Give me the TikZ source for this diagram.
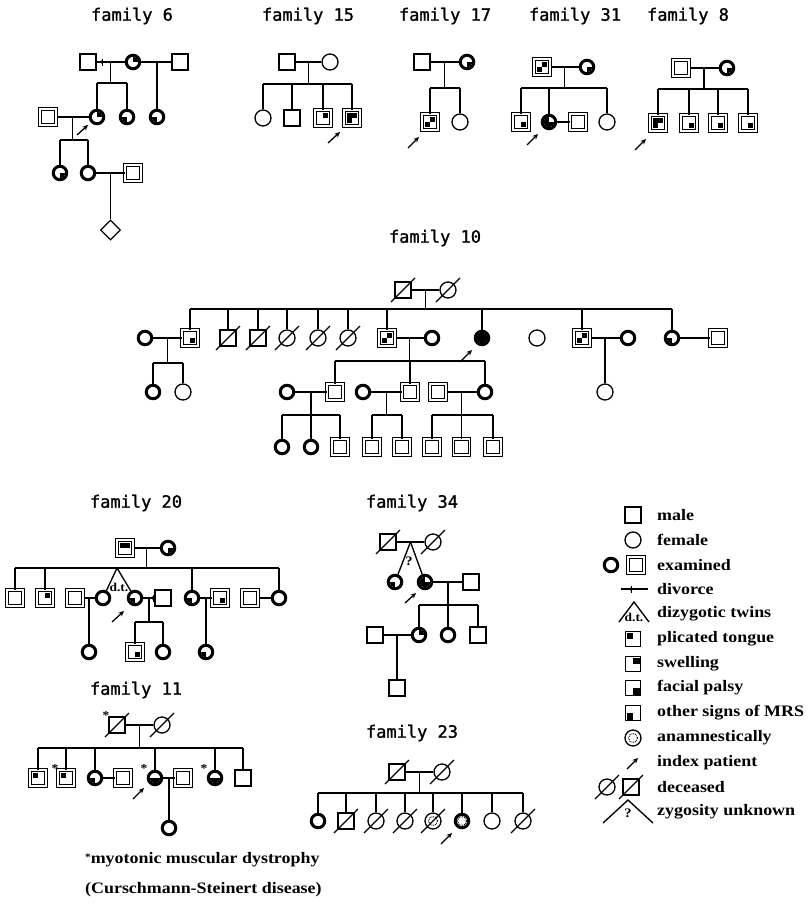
\documentclass[tikz,border=0pt]{standalone}
\usepackage{fontspec}
\usetikzlibrary{calc,shapes.geometric,arrows.meta}
\newfontfamily\ttlfont[FakeBold=1.2]{DejaVu Sans Mono}
\newfontfamily\legfont[FakeStretch=1.12]{Liberation Serif}
\tikzset{
 ind/.style={draw, line width=1.3pt, inner sep=0pt, fill=white},
 msq/.style={ind, rectangle, minimum size=16pt},
 fci/.style={ind, circle, minimum size=16pt},
 exm/.style={ind, rectangle, minimum size=16pt, double=white, double distance=1.5pt, line width=1pt},
 exf/.style={ind, circle, minimum size=13.5pt, line width=3pt},
 dia/.style={ind, diamond, minimum size=20pt},
 lsq/.style={ind, rectangle, minimum size=15pt},
 rel/.style={line width=1.35pt},
 idxa/.style={line width=1.3pt, -{Stealth[length=5.5pt,width=5pt]}},
 ttl/.style={font=\ttlfont\fontsize{17}{19}\selectfont},
 legtxt/.style={font=\legfont\bfseries\fontsize{16}{18}\selectfont, anchor=west, inner sep=0pt},
 small/.style={font=\legfont\bfseries\fontsize{12}{12}\selectfont, inner sep=0pt},
}
\newcommand\Qs[4][5]{\fill (#2.center) rectangle ++({#3*#1},{#4*#1});}
\newcommand\Qc[3]{\begin{scope}\clip (#1.center) circle[radius=5.4pt];\fill (#1.center) rectangle ++({#2*7},{#3*7});\end{scope}}
\newcommand\dead[1]{\draw[rel] ($(#1.center)+(-12,12)$) -- ($(#1.center)+(12,-12)$);}
\newcommand\amn[1]{\draw[densely dotted, line width=0.9pt] (#1.center) circle[radius=4.5pt];}
\newcommand\astr[1]{\node[font=\legfont\bfseries\fontsize{12}{12}\selectfont, inner sep=0pt] (#1st) at ($(#1.center)+(-11,-9)$) {*};}
\newcommand\mate[3]{\draw[rel] (#1) -- (#2); \coordinate (#3) at ($(#1)!.5!(#2)$);}
\newcommand\sib[4]{\draw[rel] (#1) -- (#1 |- 0,#2); \draw[rel] (#3 |- 0,#2) -- (#4 |- 0,#2);}
\newcommand\drop[2]{\foreach \pp in {#2} {\draw[rel] (\pp.north) -- (\pp |- 0,#1);}}
\newcommand\one[2]{\draw[rel] (#2.north) -- (#2 |- #1);}
\newcommand\divm[1]{\fill (#1) circle[radius=1.8pt]; \draw[line width=1pt] ($(#1)+(0,-3.5)$) -- ($(#1)+(0,3.5)$);}
\begin{document}
\begin{tikzpicture}[x=1pt,y=-1pt]
\useasboundingbox (0,0) rectangle (809,910);
\fill[white] (0,0) rectangle (809,910);

% ---------- titles
\node[ttl] (t6) at (132,16) {family 6};
\node[ttl] (t15) at (308,16) {family 15};
\node[ttl] (t17) at (445,16) {family 17};
\node[ttl] (t31) at (575,16) {family 31};
\node[ttl] (t8) at (688,16) {family 8};
\node[ttl] (t10) at (435,238) {family 10};
\node[ttl] (t20) at (136,503) {family 20};
\node[ttl] (t34) at (412,503) {family 34};
\node[ttl] (t11) at (136,690) {family 11};
\node[ttl] (t23) at (412,733) {family 23};

% ---------- family 6
\node[msq] (a6) at (88,62) {};
\node[exf] (b6) at (133,62) {}; \Qc{b6}{1}{-1}
\node[msq] (c6) at (180,62) {};
\node[exm] (d6) at (48,117) {};
\node[exf] (e6) at (97,117) {}; \Qc{e6}{1}{-1}
\node[exf] (f6) at (127,117) {}; \Qc{f6}{-1}{1}
\node[exf] (g6) at (157,117) {}; \Qc{g6}{-1}{1}
\node[exf] (h6) at (60,173) {}; \Qc{h6}{1}{1}
\node[exf] (i6) at (88,173) {};
\node[exm] (j6) at (133,173) {};
\node[dia] (k6) at (110.5,230) {};
\mate{a6}{b6}{m6a} \coordinate (dv6) at (102,62); \divm{dv6}
\mate{b6}{c6}{m6b}
\sib{m6a}{83}{e6}{f6} \drop{83}{e6,f6}
\one{m6b}{g6}
\mate{d6}{e6}{m6c}
\sib{m6c}{140}{h6}{i6} \drop{140}{h6,i6}
\mate{i6}{j6}{m6d}
\one{m6d}{k6}
\draw[idxa] ($(e6.center)+(-20,18)$) -- ($(e6.center)+(-9,8)$);

% ---------- family 15
\node[msq] (a15) at (287,62) {};
\node[fci] (b15) at (330,62) {};
\node[fci] (c15) at (263,118) {};
\node[msq] (d15) at (292,118) {};
\node[exm] (e15) at (323,118) {}; \Qs{e15}{1}{-1}
\node[exm] (f15) at (352,118) {}; \Qs{f15}{-1}{-1}\Qs{f15}{1}{-1}\Qs{f15}{-1}{1}
\mate{a15}{b15}{m15}
\sib{m15}{84}{c15}{f15} \drop{84}{c15,d15,e15,f15}
\draw[idxa] ($(f15.center)+(-24,25)$) -- ($(f15.center)+(-12,14)$);

% ---------- family 17
\node[msq] (a17) at (422,62) {};
\node[exf] (b17) at (467,62) {}; \Qc{b17}{1}{1}
\node[exm] (c17) at (430,122) {}; \Qs{c17}{1}{-1}\Qs{c17}{-1}{1}
\node[fci] (d17) at (460,122) {};
\mate{a17}{b17}{m17}
\sib{m17}{88}{c17}{d17} \drop{88}{c17,d17}
\draw[idxa] ($(c17.center)+(-22,26)$) -- ($(c17.center)+(-11,15)$);

% ---------- family 31
\node[exm] (a31) at (542,67) {}; \Qs{a31}{1}{-1}\Qs{a31}{-1}{1}
\node[exf] (b31) at (587,67) {}; \Qc{b31}{1}{1}
\node[exm] (c31) at (521,122) {}; \Qs{c31}{1}{1}
\node[exf] (d31) at (549,122) {}; \Qc{d31}{-1}{-1}\Qc{d31}{-1}{1}\Qc{d31}{1}{1}
\node[exm] (e31) at (578,122) {};
\node[fci] (f31) at (607,122) {};
\mate{a31}{b31}{m31}
\sib{m31}{88}{c31}{f31} \drop{88}{c31,d31,f31}
\mate{d31}{e31}{m31b}
\draw[idxa] ($(d31.center)+(-22,23)$) -- ($(d31.center)+(-11,12)$);

% ---------- family 8
\node[exm] (a8) at (681,68) {};
\node[exf] (b8) at (727,68) {}; \Qc{b8}{1}{1}
\node[exm] (c8) at (658,123) {}; \Qs{c8}{-1}{-1}\Qs{c8}{1}{-1}\Qs{c8}{-1}{1}
\node[exm] (d8) at (689,123) {}; \Qs{d8}{1}{1}
\node[exm] (e8) at (718,123) {}; \Qs{e8}{1}{1}
\node[exm] (f8) at (748,123) {}; \Qs{f8}{1}{1}
\mate{a8}{b8}{m8}
\sib{m8}{89}{c8}{f8} \drop{89}{c8,d8,e8,f8}
\draw[idxa] ($(c8.center)+(-23,27)$) -- ($(c8.center)+(-12,16)$);

% ---------- family 10
\node[msq] (a10) at (403,290) {}; \dead{a10}
\node[fci] (b10) at (448,290) {}; \dead{b10}
\node[exf] (c10) at (145,338) {};
\node[exm] (d10) at (190,338) {}; \Qs{d10}{1}{1}
\node[msq] (e10) at (228,338) {}; \dead{e10}
\node[msq] (f10) at (258,338) {}; \dead{f10}
\node[fci] (g10) at (287,338) {}; \dead{g10}
\node[fci] (h10) at (318,338) {}; \dead{h10}
\node[fci] (i10) at (348,338) {}; \dead{i10}
\node[exm] (j10) at (387,338) {}; \Qs{j10}{1}{-1}\Qs{j10}{-1}{1}
\node[exf] (k10) at (432,338) {};
\node[exf] (l10) at (482,338) {}; \fill (l10.center) circle[radius=5.5pt];
\node[fci] (m10) at (537,338) {};
\node[exm] (n10) at (582,338) {}; \Qs{n10}{1}{-1}\Qs{n10}{-1}{1}
\node[exf] (o10) at (628,338) {};
\node[exf] (p10) at (672,338) {}; \Qc{p10}{-1}{1}
\node[exm] (q10) at (718,338) {};
\mate{a10}{b10}{m10}
\sib{m10}{309}{d10}{p10} \drop{309}{d10,e10,f10,g10,h10,i10,j10,l10,m10,n10,p10}
\mate{c10}{d10}{m10a}
\mate{j10}{k10}{m10b}
\mate{n10}{o10}{m10f}
\mate{p10}{q10}{m10g}
% gen III
\node[exf] (r10) at (153,392) {};
\node[fci] (s10) at (183,392) {};
\sib{m10a}{363}{r10}{s10} \drop{363}{r10,s10}
\node[exf] (x10a) at (287,392) {};
\node[exm] (t10) at (335,392) {};
\node[exf] (x10b) at (363,392) {};
\node[exm] (u10) at (410,392) {};
\node[exm] (x10c) at (438,392) {};
\node[exf] (w10) at (485,392) {};
\sib{m10b}{361}{t10}{w10} \drop{361}{t10,u10,w10}
\node[fci] (v10) at (605,392) {};
\one{m10f}{v10}
\mate{x10a}{t10}{m10c}
\mate{x10b}{u10}{m10d}
\mate{x10c}{w10}{m10e}
% gen IV
\node[exf] (g4a) at (282,447) {};
\node[exf] (g4b) at (311,447) {};
\node[exm] (g4c) at (340,447) {};
\node[exm] (g4d) at (372,447) {};
\node[exm] (g4e) at (402,447) {};
\node[exm] (g4f) at (432,447) {};
\node[exm] (g4g) at (461.5,447) {};
\node[exm] (g4h) at (493,447) {};
\sib{m10c}{415}{g4a}{g4c} \drop{415}{g4a,g4b,g4c}
\sib{m10d}{415}{g4d}{g4e} \drop{415}{g4d,g4e}
\sib{m10e}{415}{g4f}{g4h} \drop{415}{g4f,g4g,g4h}
\draw[idxa] ($(l10.center)+(-22,24)$) -- ($(l10.center)+(-10,12)$);

% ---------- family 20
\node[exm] (a20) at (125,548) {}; \Qs{a20}{-1}{-1}\Qs{a20}{1}{-1}
\node[exf] (b20) at (168,548) {}; \Qc{b20}{1}{1}
\node[exm] (c20) at (15,598) {};
\node[exm] (d20) at (45,598) {}; \Qs{d20}{1}{-1}
\node[exm] (e20) at (75,598) {};
\node[exf] (f20) at (103,598) {};
\node[exf] (g20) at (135,598) {}; \Qc{g20}{-1}{1}
\node[msq] (h20) at (163,598) {};
\node[exf] (i20) at (192,598) {}; \Qc{i20}{-1}{1}
\node[exm] (j20) at (220,598) {}; \Qs{j20}{1}{1}
\node[exm] (k20) at (250,598) {};
\node[exf] (l20) at (279,598) {};
\mate{a20}{b20}{m20}
\sib{m20}{568}{c20}{l20} \drop{568}{c20,d20,i20,l20}
\coordinate (tw20) at (117,568);
\draw[rel] (tw20) -- (f20); \draw[rel] (tw20) -- (g20);
\node[small] (dt20) at (119,587) {d.t.};
\mate{e20}{f20}{m20a}
\mate{g20}{h20}{m20b} \coordinate (dv20) at (153,598); \divm{dv20}
\mate{i20}{j20}{m20c}
\mate{k20}{l20}{m20d}
\node[exf] (p20a) at (89,652) {};
\one{m20a}{p20a}
\node[exm] (n20) at (135,652) {}; \Qs{n20}{1}{1}
\node[exf] (o20) at (163,652) {};
\sib{m20b}{622}{n20}{o20} \drop{622}{n20,o20}
\node[exf] (p20) at (206,652) {}; \Qc{p20}{-1}{1}
\one{m20c}{p20}
\draw[idxa] ($(g20.center)+(-23,24)$) -- ($(g20.center)+(-11,13)$);

% ---------- family 34
\node[msq] (a34) at (388,542) {}; \dead{a34}
\node[fci] (b34) at (433,542) {}; \dead{b34}
\node[exf] (c34) at (395,582) {}; \Qc{c34}{-1}{1}
\node[exf] (d34) at (425,582) {}; \Qc{d34}{-1}{-1}\Qc{d34}{-1}{1}\Qc{d34}{1}{1}
\node[msq] (e34) at (471,582) {};
\mate{a34}{b34}{m34}
\draw[rel] (m34) -- (c34); \draw[rel] (m34) -- (d34);
\node[font=\legfont\bfseries\fontsize{13}{13}\selectfont, inner sep=0pt] (q34) at (409,561) {?};
\mate{d34}{e34}{m34a}
\node[exf] (f34) at (419,635) {}; \Qc{f34}{1}{-1}
\node[exf] (g34) at (448,635) {};
\node[msq] (h34) at (478,635) {};
\sib{m34a}{605}{f34}{h34} \drop{605}{f34,g34,h34}
\node[msq] (i34) at (375,635) {};
\mate{i34}{f34}{m34b}
\node[msq] (j34) at (397,688) {};
\one{m34b}{j34}
\draw[idxa] ($(d34.center)+(-20,21)$) -- ($(d34.center)+(-9,11)$);

% ---------- family 11
\node[msq] (a11) at (117,725) {}; \dead{a11} \astr{a11}
\node[fci] (b11) at (162,725) {}; \dead{b11}
\node[exm] (c11) at (38,778) {}; \Qs{c11}{-1}{-1}
\node[exm] (d11) at (66,778) {}; \Qs{d11}{-1}{-1} \astr{d11}
\node[exf] (e11) at (95,778) {}; \Qc{e11}{-1}{1}
\node[exm] (f11) at (123,778) {};
\node[exf] (g11) at (155,778) {}; \Qc{g11}{-1}{1}\Qc{g11}{1}{1} \astr{g11}
\node[exm] (h11) at (183,778) {};
\node[exf] (i11) at (215,778) {}; \Qc{i11}{-1}{1}\Qc{i11}{1}{1} \astr{i11}
\node[msq] (j11) at (243,778) {};
\mate{a11}{b11}{m11}
\sib{m11}{748}{c11}{j11} \drop{748}{c11,d11,e11,g11,i11,j11}
\mate{e11}{f11}{m11a}
\mate{g11}{h11}{m11b}
\node[exf] (k11) at (169,828) {};
\one{m11b}{k11}
\draw[idxa] ($(g11.center)+(-22,21)$) -- ($(g11.center)+(-11,10)$);

% ---------- family 23
\node[msq] (a23) at (397,772) {}; \dead{a23}
\node[fci] (b23) at (442,772) {}; \dead{b23}
\node[exf] (c23) at (318,821) {};
\node[msq] (d23) at (346,821) {}; \dead{d23}
\node[fci] (e23) at (376,821) {}; \dead{e23}
\node[fci] (f23) at (405,821) {}; \dead{f23}
\node[fci] (g23) at (433,821) {}; \amn{g23} \dead{g23}
\node[exf] (h23) at (462,821) {}; \amn{h23}
\node[fci] (i23) at (492,821) {};
\node[fci] (j23) at (523,821) {}; \dead{j23}
\mate{a23}{b23}{m23}
\sib{m23}{793}{c23}{j23} \drop{793}{c23,d23,e23,f23,g23,h23,i23,j23}
\draw[idxa] ($(h23.center)+(-21,23)$) -- ($(h23.center)+(-10,12)$);

% ---------- legend
\node[msq] (lm) at (633,515) {};
\node[legtxt] (lmt) at (657,515) {male};
\node[fci] (lf) at (633,540) {};
\node[legtxt] (lft) at (657,540) {female};
\node[exf] (lec) at (611,565) {};
\node[exm] (les) at (636,565) {};
\node[legtxt] (let) at (657,565) {examined};
\coordinate (ld1) at (621,589); \coordinate (ld2) at (648,589); \coordinate (ldv) at (631,589);
\draw[rel] (ld1) -- (ld2); \divm{ldv}
\node[legtxt] (ldt) at (657,589) {divorce};
\coordinate (lt0) at (634,602); \coordinate (lt1) at (619,622); \coordinate (lt2) at (649,622);
\draw[rel] (lt1) -- (lt0) -- (lt2);
\node[small] (ltd) at (634,617) {d.t.};
\node[legtxt] (ltt) at (657,614) {dizygotic twins};
\node[lsq] (lp) at (633,639) {}; \Qs[6.5]{lp}{-1}{-1}
\node[legtxt] (lpt) at (657,639) {plicated tongue};
\node[lsq] (ls) at (633,664) {}; \Qs[6.5]{ls}{1}{-1}
\node[legtxt] (lst) at (657,664) {swelling};
\node[lsq] (lfp) at (633,688) {}; \Qs[6.5]{lfp}{1}{1}
\node[legtxt] (lfpt) at (657,688) {facial palsy};
\node[lsq] (lo) at (633,713) {}; \Qs[6.5]{lo}{-1}{1}
\node[legtxt] (lot) at (657,713) {other signs of MRS};
\node[fci] (la) at (633,738) {}; \amn{la}
\node[legtxt] (lat) at (657,738) {anamnestically};
\coordinate (li1) at (627,769); \coordinate (li2) at (638,758);
\draw[idxa] (li1) -- (li2);
\node[legtxt] (lit) at (657,763) {index patient};
\node[fci] (ldc) at (607,787) {}; \dead{ldc}
\node[msq] (lds) at (631,787) {}; \dead{lds}
\node[legtxt] (ldst) at (657,787) {deceased};
\coordinate (lz0) at (628,800); \coordinate (lz1) at (603,823); \coordinate (lz2) at (653,823);
\draw[rel] (lz1) -- (lz0) -- (lz2);
\node[font=\legfont\bfseries\fontsize{13}{13}\selectfont, inner sep=0pt] (lzq) at (628,813) {?};
\node[legtxt] (lzt) at (657,812) {zygosity unknown};

% ---------- footnote
\node[legtxt] (fn1) at (85,860) {\raisebox{3pt}{\fontsize{10}{10}\selectfont *}myotonic muscular dystrophy};
\node[legtxt] (fn2) at (85,890) {(Curschmann-Steinert disease)};
\end{tikzpicture}
\end{document}
